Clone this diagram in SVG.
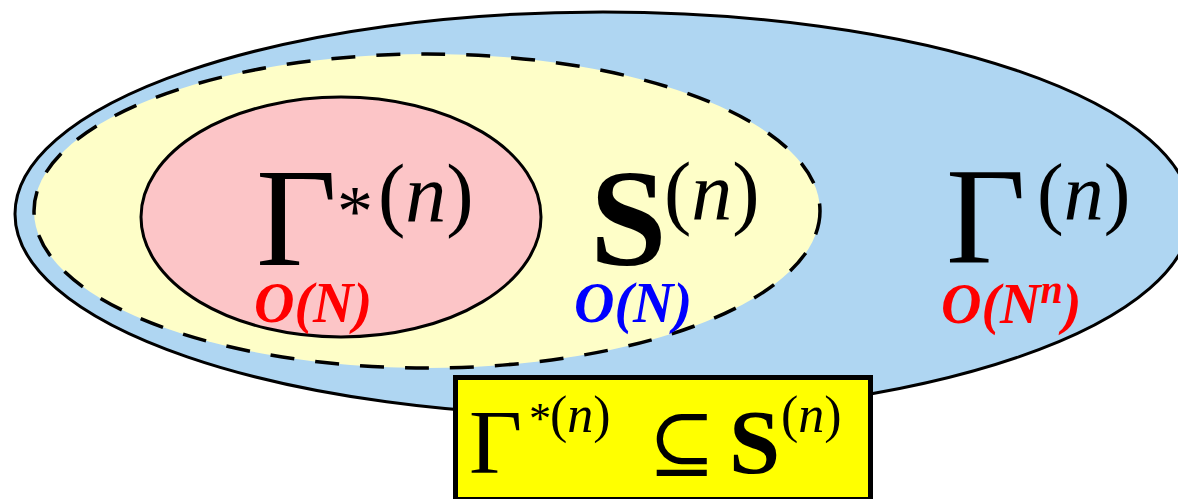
<svg xmlns="http://www.w3.org/2000/svg" width="1178" height="499" viewBox="0 0 1178 499">
<style>
.m{font-family:"Liberation Serif","DejaVu Serif",serif;fill:#000}
.it{font-style:italic}
.b{font-weight:bold}
.o{font-family:"Liberation Serif","DejaVu Serif",serif;font-weight:bold;font-style:italic;font-size:56px}
</style>
<rect width="1178" height="499" fill="#fff"/>
<g id="gamma-n">
<ellipse cx="603" cy="214" rx="588" ry="202" fill="#afd6f2" stroke="#000" stroke-width="3"/>
<text class="m" y="263"><tspan x="946" font-size="138">Γ</tspan><tspan x="1037" y="219" font-size="80">(<tspan class="it">n</tspan>)</tspan></text>
<text class="o" x="941" y="323" fill="#ff0000">O(N<tspan font-size="40" dy="-20">n</tspan><tspan dy="20">)</tspan></text>
</g>
<g id="s-n">
<ellipse cx="427" cy="211" rx="393" ry="157" fill="#fefec8" stroke="#000" stroke-width="3.5" stroke-dasharray="24 21"/>
<text class="m" y="265"><tspan x="590" font-size="138" class="b">S</tspan><tspan x="664" y="219" font-size="82">(<tspan class="it">n</tspan>)</tspan></text>
<text class="o" x="574" y="322" fill="#0000ff">O(N)</text>
</g>
<g id="gamma-star-n">
<ellipse cx="341" cy="217" rx="200" ry="120" fill="#fcc5c7" stroke="#000" stroke-width="3"/>
<text class="m" y="265"><tspan x="256" font-size="140">Γ</tspan><tspan x="337" y="235" font-size="72">*</tspan><tspan x="378" y="221" font-size="82">(<tspan class="it">n</tspan>)</tspan></text>
<text class="o" x="254" y="322" fill="#ff0000">O(N)</text>
</g>
<g id="connectors"></g>
<g id="relation">
<rect x="455.5" y="377.5" width="415" height="122" fill="#ffff00" stroke="#000" stroke-width="5"/>
<text class="m" y="473"><tspan x="469" font-size="92">Γ</tspan><tspan x="529" y="433" font-size="44">*</tspan><tspan x="550" y="432" font-size="52">(<tspan class="it">n</tspan>)</tspan><tspan x="648" y="470" font-size="80">⊆</tspan><tspan x="729" y="473" font-size="92" class="b">S</tspan><tspan x="781" y="432" font-size="52">(<tspan class="it">n</tspan>)</tspan></text>
</g>
</svg>
